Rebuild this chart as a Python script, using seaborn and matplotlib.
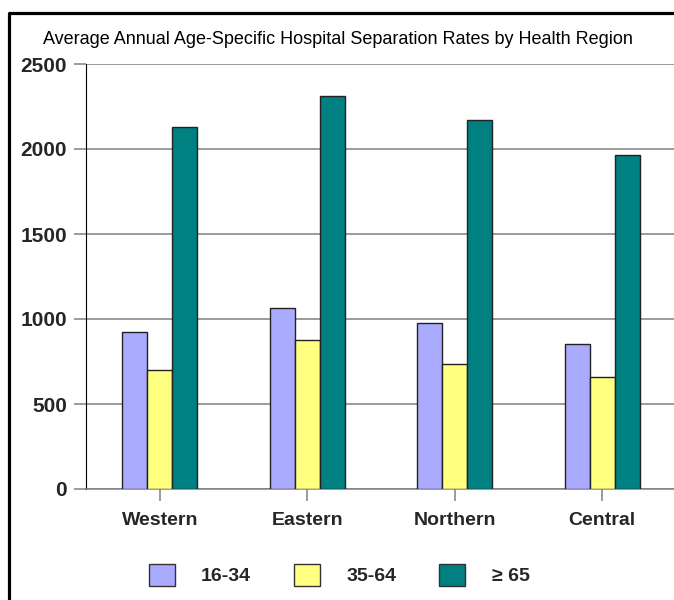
import matplotlib
matplotlib.use("Agg")
import matplotlib.pyplot as plt
from matplotlib.lines import Line2D
import pandas as pd
import seaborn as sns

regions = ["Western", "Eastern", "Northern", "Central"]
age_groups = ["16-34", "35-64", "\u2265 65"]
rate_16_34 = [923, 1065, 975, 853]
rate_35_64 = [700, 875, 735, 660]
rate_65_up = [2128, 2312, 2170, 1965]
colors = ["#AAAAFF", "#FFFF80", "#008080"]

rows = []
for grp, vals in zip(age_groups, [rate_16_34, rate_35_64, rate_65_up]):
    for reg, v in zip(regions, vals):
        rows.append({"Region": reg, "Age": grp, "Rate": v})
df = pd.DataFrame(rows)

sns.set_theme(style="white")
plt.rcParams["font.family"] = ["Liberation Sans", "DejaVu Sans"]

fig = plt.figure(figsize=(6.74, 6.0), dpi=100)
ax = fig.add_axes([86 / 674, 111 / 600, 590 / 674, 425 / 600])

sns.barplot(data=df, x="Region", y="Rate", hue="Age", hue_order=age_groups,
            palette=colors, width=0.51, edgecolor="#222222", linewidth=1.0,
            saturation=1, ax=ax, zorder=3)

ax.set_ylim(0, 2500)
ax.set_xlim(-0.5, 3.5)
ax.set_yticks([0, 500, 1000, 1500, 2000, 2500])
ax.yaxis.grid(True, color="#808080", linewidth=1.1, zorder=0)
ax.set_axisbelow(True)
ax.set_xlabel("")
ax.set_ylabel("")

for s in ["top", "right"]:
    ax.spines[s].set_visible(False)
ax.spines["left"].set_color("black")
ax.spines["left"].set_linewidth(0.8)
ax.spines["bottom"].set_color("#808080")
ax.spines["bottom"].set_linewidth(1.1)

ax.tick_params(axis="y", left=True, length=8.6, width=1.1, color="#808080",
               pad=5, labelsize=15)
ax.tick_params(axis="x", bottom=True, length=8.6, width=1.1, color="#808080",
               pad=8, labelsize=14)
for lab in ax.get_yticklabels() + ax.get_xticklabels():
    lab.set_fontweight("bold")

ax.get_legend().remove()
handles = [plt.Rectangle((0, 0), 1, 1, facecolor=c, edgecolor="#333333",
                         linewidth=1.0) for c in colors]
fig.legend(handles, age_groups, loc="center", bbox_to_anchor=(0.503, 0.042),
           ncol=3, frameon=False, handlelength=1.35, handleheight=1.35,
           handletextpad=1.35, columnspacing=2.2,
           prop={"size": 14, "weight": "bold"})

fig.text(0.502, 1 - 40 / 600,
         "Average Annual Age-Specific Hospital Separation Rates by Health Region",
         ha="center", va="center", fontsize=13, color="black")

# frame on left and top
fig.add_artist(Line2D([8.5 / 674, 8.5 / 674], [0, 1 - 13 / 600],
                      color="black", linewidth=2.3, transform=fig.transFigure))
fig.add_artist(Line2D([8.5 / 674, 1], [1 - 13 / 600, 1 - 13 / 600],
                      color="black", linewidth=2.3, solid_capstyle="butt",
                      transform=fig.transFigure))

fig.savefig("out.png", dpi=100)
